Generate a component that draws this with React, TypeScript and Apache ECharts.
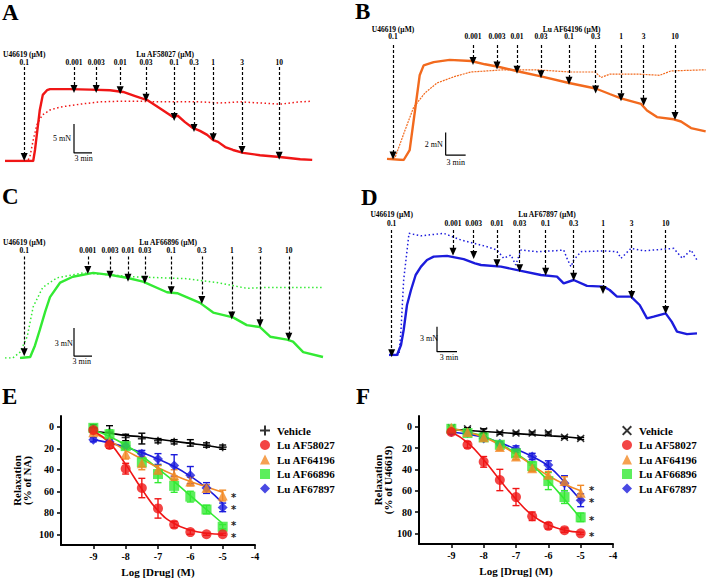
import React, { useEffect, useRef } from "react";
import * as echarts from "echarts";

// ---------------- Trace panels (time in min, force in mN) ----------------
const A_drug: number[][] = [[0,0],[4.7,0],[5,1.9],[5.3,4.5],[5.8,8.8],[6.3,11.4],[7,12.2],[7.5,12.4],[10.8,12.4],[14.2,12.3],[17.5,12.2],[19.7,11.9],[21.7,11.2],[23.7,10.5],[25.8,9.1],[28,7.6],[28.8,7.8],[30,6.7],[31.3,5.7],[32.5,5.2],[33.7,4.5],[34.7,3.6],[35.5,3.3],[36.7,2.4],[38,1.9],[39.7,1.4],[42.5,1.0],[45.8,0.7],[49.2,0.3],[51.2,0.2]];
const A_vehicle: number[][] = [[0,0],[3.8,0],[4.2,1.0],[4.7,3.6],[5.3,6.2],[6.2,7.9],[7.5,8.8],[9.2,9.3],[12.5,9.8],[15.8,10.2],[19.2,10.3],[22.5,10.3],[25.8,10.2],[29.2,10.2],[32.5,10.2],[35.8,10.0],[39.2,10.2],[42.5,10.0],[45.8,9.8],[47.5,10.0],[49.2,10.2],[51.2,10.3]];
const A_concLabels = ["0.001","0.003","0.01","0.03","0.1","0.3","1","3","10"];
const A_concTime = [11.5,15.2,19.2,23.5,28.2,31.5,34.7,39.5,45.7];
const A_concTip = [12.4,12.4,12.2,10.9,7.6,5.7,4.1,1.9,0.9];

const B_drug: number[][] = [[0,0.1],[2.5,0],[3.4,0.9],[4.2,4.5],[4.9,7.7],[5.5,8.6],[7.0,8.9],[9.4,9.1],[12.6,9.0],[14.7,8.7],[16.5,8.5],[20.1,8.0],[23.1,7.6],[27.3,7.0],[31.3,6.5],[33.4,6.0],[35.1,5.6],[38.1,5.1],[39.0,4.5],[40.5,3.9],[43.0,3.7],[44.1,3.5],[45.6,2.9],[47.8,2.6]];
const B_vehicle: number[][] = [[0,0.1],[1.2,0.2],[2.7,2.7],[4.0,4.8],[5.7,6.1],[7.5,7.0],[10.2,7.6],[12.6,8.0],[17.5,8.2],[22.5,8.2],[27.4,8.0],[31.2,8.0],[32.1,7.5],[33.4,7.8],[37.9,7.8],[40.9,7.7],[42.6,8.1],[47.8,8.2]];
const B_concLabels = ["0.001","0.003","0.01","0.03","0.1","0.3","1","3","10"];
const B_concTime = [12.9,16.5,19.5,23.1,27.3,31.3,35.1,38.5,43.2];
const B_concTip = [9.0,8.6,8.2,7.8,7.2,6.4,5.7,5.3,4.0];

const C_drug: number[][] = [[2.5,0],[4.2,0.1],[5,1.3],[5.8,2.9],[6.7,4.8],[7.5,6.3],[9.2,7.8],[11.3,8.4],[14.7,8.8],[17.5,8.6],[20.3,8.3],[23,7.9],[27,6.8],[28.7,6.7],[32.5,5.7],[34.7,4.7],[38,4.2],[40.3,3.4],[42.5,3.2],[44.2,2.2],[47,1.9],[48,1.7],[49.7,0.6],[53,0.1]];
const C_vehicle: number[][] = [[0,0],[1.3,0],[2.5,0.6],[3.7,2.2],[4.7,5.3],[6.3,7.3],[8.7,8.3],[13,8.8],[17.5,8.6],[21.3,8.4],[25.8,8.3],[30.3,8.2],[35.3,7.8],[40.3,7.2],[43.7,7.3],[48,7.3],[53,7.3]];
const C_concLabels = ["0.001","0.003","0.01","0.03","0.1","0.3","1","3","10"];
const C_concTime = [13.8,17.5,20.5,23.3,27.7,32.8,37.8,42.5,47.3];
const C_concTip = [9.1,8.6,8.3,8.1,7.0,6.0,4.4,3.6,2.2];

const D_drug: number[][] = [[0,0],[1.2,0],[1.8,1.2],[2.2,3.0],[2.7,6.0],[3.3,7.8],[4,9.6],[4.8,10.6],[5.7,11.4],[6.7,11.8],[8.7,11.9],[11.2,11.5],[12.9,11.0],[13.8,10.8],[16.8,10.6],[19.8,10.1],[22.8,9.6],[25.2,9.4],[26.2,8.6],[27.7,9.0],[29.7,8.3],[32.2,8.2],[33.1,7.8],[34.2,7.0],[36.3,7.0],[37.6,6.0],[38.7,4.4],[39.7,4.6],[41.5,5.0],[42.4,4.0],[43.2,2.8],[44.7,2.5],[46.2,2.6]];
const D_vehicle: number[][] = [[0,0],[1.5,0],[1.8,3],[2.2,9],[3,14.6],[4.8,14.3],[8.2,14.6],[10.8,13.8],[14.7,13],[16.2,12.6],[17.2,11.6],[18.3,12],[19,10.8],[19.8,12.6],[22.2,12.4],[24.7,12.5],[26.2,12.6],[26.8,11.4],[27.3,10.6],[27.7,11.4],[28.8,12.4],[32.2,12.5],[34.2,12.4],[34.8,11.6],[36.3,12.8],[38.2,12.5],[42.7,12.8],[44,11.6],[45.3,12.6],[46.2,11.4]];
const D_concLabels = ["0.001","0.003","0.01","0.03","0.1","0.3","1","3","10"];
const D_concTime = [9.6,12.7,16.2,19.6,23.5,27.7,32.1,36.4,41.5];
const D_concTip = [12.4,12.0,11.0,10.4,10.0,9.4,7.8,7.2,5.4];

// ---------------- Concentration-response panels ----------------
const logDrug = [-9, -8.5, -8, -7.5, -7, -6.5, -6, -5.5, -5];

const E_vehicle = [1, 5, 10, 11, 13, 14, 15, 17, 19];
const E_vehicleErr = [3, 6, 3, 5, 2, 2, 3, 2, 2];
const E_vehicleFit = [4, 6, 8, 9.5, 11.5, 13.5, 15.5, 17.5, 20];
const E_58027 = [3, 17, 39, 57, 76, 91, 98, 100, 100];
const E_58027Err = [2, 3, 5, 9, 9, 3, 2, 1, 1];
const E_58027Fit = [4, 15, 35, 58, 78, 90, 96, 99, 100];
const E_64196 = [5, 14, 25, 34, 40, 45, 51, 57, 64];
const E_64196Err = [2, 3, 5, 6, 4, 5, 4, 3, 5];
const E_64196Fit = [6, 13, 22, 30, 38, 45, 51, 56, 61];
const E_66896 = [1, 7, 18, 33, 44, 55, 65, 77, 93];
const E_66896Err = [2, 4, 3, 4, 8, 6, 5, 4, 2];
const E_66896Fit = [3, 9, 17, 27, 39, 51, 64, 77, 90];
const E_67897 = [12, 14, 18, 25, 30, 36, 45, 57, 75];
const E_67897Err = [2, 2, 2, 3, 5, 10, 8, 5, 4];
const E_67897Fit = [12, 15, 19, 24, 30, 37, 46, 57, 71];
const E_starLevels = [63.6, 74.8, 89.7, 100.9]; // where the significance asterisks sit

const F_vehicle = [1, 2, 4, 6, 6, 6, 6, 10, 11];
const F_vehicleErr = [1, 1, 2, 1, 1, 1, 1, 1, 1];
const F_vehicleFit = [2.5, 3.5, 4.5, 5.5, 6.5, 7.5, 8.5, 9.5, 11];
const F_58027 = [5, 17, 33, 50, 66, 84, 93, 97, 100];
const F_58027Err = [2, 3, 5, 10, 8, 4, 3, 2, 1];
const F_58027Fit = [5, 15, 31, 50, 68, 83, 92, 97, 99];
const F_64196 = [1, 5, 10, 19, 28, 39, 45, 51, 62];
const F_64196Err = [1, 1, 2, 3, 3, 3, 3, 4, 7];
const F_64196Fit = [2, 5, 10, 17, 26, 36, 46, 54, 60];
const F_66896 = [2, 6, 10, 17, 25, 37, 51, 66, 85];
const F_66896Err = [1, 1, 2, 2, 3, 4, 8, 6, 4];
const F_66896Fit = [2, 5, 9, 16, 25, 36, 51, 68, 86];
const F_67897 = [5, 6, 11, 16, 21, 28, 36, 53, 69];
const F_67897Err = [1, 1, 2, 2, 3, 3, 4, 7, 6];
const F_67897Fit = [5, 7, 10, 15, 21, 28, 37, 52, 69];
const F_starLevels = [58, 69.2, 86, 101];

const xTickLabels = [-9, -8, -7, -6, -5, -4];
const yTickLabels = [0, 20, 40, 60, 80, 100];

const SERIF = "'Liberation Serif', 'Times New Roman', serif";
const RED = "#f01616";
const ORANGE = "#f28a26";
const GREEN = "#33ea33";
const BLUE = "#1c1cdc";

const PLUS = "path://M3.2,0H4.8V3.2H8V4.8H4.8V8H3.2V4.8H0V3.2H3.2Z";
const CROSS = "path://M1.1,0L4,2.9L6.9,0L8,1.1L5.1,4L8,6.9L6.9,8L4,5.1L1.1,8L0,6.9L2.9,4L0,1.1Z";

type TraceCfg = {
  rect: { left: number; top: number; width: number; height: number };
  xMax: number; yMax: number;
  color: string;
  drug: number[][]; vehicle: number[][];
  vehicleStyle: "dotted" | "thin";
  concLabels: string[]; concTime: number[]; concTip: number[];
  uTime: number; uTip: number;
  headerF: number; concF: number; arrowTopF: number;
  drugName: string; drugCenterT: number;
  bar: { t: number; fTop: number; fBot: number; mN: string; mNT: number; mNF: number; minT: number; minF: number };
};

type TextItem = { t: number; f: number; text: string };

// Text placed through the axes (data coordinates) by a custom series
function textSeries(gi: number, name: string, items: TextItem[], font: string, dy = 0, fill = "#000") {
  return {
    type: "custom", name, xAxisIndex: gi, yAxisIndex: gi, silent: true, clip: false, z: 20,
    data: items.map((it) => [it.t, it.f]),
    renderItem: (params: any, api: any) => {
      const p = api.coord([api.value(0), api.value(1)]);
      return {
        type: "text", x: p[0], y: p[1] + dy,
        style: { text: items[params.dataIndex].text, fill, font, align: "center", verticalAlign: "middle" },
      };
    },
  };
}

function traceSeries(gi: number, c: TraceCfg) {
  const arrows = [
    [{ coord: [c.uTime, c.arrowTopF] }, { coord: [c.uTime, c.uTip] }],
    ...c.concTime.map((t, i) => [{ coord: [t, c.arrowTopF] }, { coord: [t, c.concTip[i]] }]),
  ];
  const texts: TextItem[] = [
    { t: c.uTime, f: c.headerF, text: "U46619 (\u00b5M)" },
    { t: c.uTime, f: c.concF, text: "0.1" },
    { t: c.drugCenterT, f: c.headerF, text: c.drugName + " (\u00b5M)" },
    ...c.concTime.map((t, i) => ({ t, f: c.concF, text: c.concLabels[i] })),
  ];
  const base = { xAxisIndex: gi, yAxisIndex: gi, silent: true };
  return [
    {
      ...base, type: "line", name: "veh" + gi, data: c.vehicle, showSymbol: false, symbol: "none",
      lineStyle: c.vehicleStyle === "dotted"
        ? { color: c.color, width: 1.5, type: [1.5, 2.5] }
        : { color: c.color, width: 1.2, type: [2, 1] },
      z: 2,
    },
    {
      ...base, type: "line", name: "drug" + gi, data: c.drug, showSymbol: false, symbol: "none",
      lineStyle: { color: c.color, width: 2.4 }, z: 3,
      markLine: {
        silent: true, symbol: ["none", "triangle"], symbolSize: [7, 8], animation: false,
        label: { show: false }, emphasis: { disabled: true },
        lineStyle: { color: "#000", width: 1.2, type: [3, 2] },
        data: arrows,
      },
    },
    {
      ...base, type: "line", name: "bar" + gi, showSymbol: false, symbol: "none",
      data: [[c.bar.t, c.bar.fTop], [c.bar.t, c.bar.fBot], [c.bar.t + 3, c.bar.fBot]],
      lineStyle: { color: "#000", width: 1.2 }, z: 4,
    },
    textSeries(gi, "txt" + gi, texts, `bold 7.5px ${SERIF}`),
    textSeries(gi, "sc" + gi, [
      { t: c.bar.mNT, f: c.bar.mNF, text: c.bar.mN },
      { t: c.bar.minT, f: c.bar.minF, text: "3 min" },
    ], `8px ${SERIF}`),
  ];
}

const traceCfgs: TraceCfg[] = [
  {
    rect: { left: 5, top: 45, width: 312, height: 116 }, xMax: 52, yMax: 20, color: RED,
    drug: A_drug, vehicle: A_vehicle, vehicleStyle: "dotted",
    concLabels: A_concLabels, concTime: A_concTime, concTip: A_concTip,
    uTime: 3.2, uTip: 0.7, headerF: 18.4, concF: 17.0, arrowTopF: 16.2,
    drugName: "Lu AF58027", drugCenterT: 26.7,
    bar: { t: 11.5, fTop: 6.4, fBot: 1.4, mN: "5 mN", mNT: 9.5, mNF: 3.9, minT: 13.1, minF: 0.45 },
  },
  {
    rect: { left: 387, top: 17, width: 320, height: 143 }, xMax: 48, yMax: 13, color: "#f26a1e",
    drug: B_drug, vehicle: B_vehicle, vehicleStyle: "thin",
    concLabels: B_concLabels, concTime: B_concTime, concTip: B_concTip,
    uTime: 0.9, uTip: 0.4, headerF: 11.9, concF: 11.2, arrowTopF: 10.45,
    drugName: "Lu AF64196", drugCenterT: 27.7,
    bar: { t: 8.8, fTop: 2.5, fBot: 0.45, mN: "2 mN", mNT: 7.0, mNF: 1.4, minT: 10.3, minF: -0.2 },
  },
  {
    rect: { left: 5, top: 240, width: 318, height: 118 }, xMax: 53, yMax: 12.2, color: GREEN,
    drug: C_drug, vehicle: C_vehicle, vehicleStyle: "dotted",
    concLabels: C_concLabels, concTime: C_concTime, concTip: C_concTip,
    uTime: 3.2, uTip: 0.6, headerF: 11.9, concF: 11.1, arrowTopF: 10.5,
    drugName: "Lu AF66896", drugCenterT: 27.2,
    bar: { t: 11.5, fTop: 3.1, fBot: 0.2, mN: "3 mN", mNT: 9.8, mNF: 1.55, minT: 12.8, minF: -0.4 },
  },
  {
    rect: { left: 389, top: 205, width: 312, height: 150 }, xMax: 46.8, yMax: 18, color: BLUE,
    drug: D_drug, vehicle: D_vehicle, vehicleStyle: "dotted",
    concLabels: D_concLabels, concTime: D_concTime, concTip: D_concTip,
    uTime: 0.4, uTip: 0.2, headerF: 16.9, concF: 15.8, arrowTopF: 15.0,
    drugName: "Lu AF67897", drugCenterT: 23.7,
    bar: { t: 7.2, fTop: 3.4, fBot: 0.4, mN: "3 mN", mNT: 6.0, mNF: 2.0, minT: 9.0, minF: -0.3 },
  },
];

type CRSet = { name: string; color: string; symbol: string; size: number; mean: number[]; err: number[]; fit: number[] };

function crSeries(gi: number, sets: CRSet[], starTx: number, starLevels: number[]) {
  const base = { xAxisIndex: gi, yAxisIndex: gi };
  const out: any[] = [];
  sets.forEach((s, k) => {
    out.push({
      ...base, type: "line", name: `fit${gi}-${k}`, data: logDrug.map((x, i) => [x, s.fit[i]]),
      smooth: true, showSymbol: false, symbol: "none", silent: true,
      lineStyle: { color: s.color, width: 1.6 }, z: 2 + k,
    });
    out.push({
      ...base, type: "custom", name: `err${gi}-${k}`, silent: true, z: 2 + k,
      data: logDrug.map((x, i) => [x, s.mean[i] - s.err[i], s.mean[i] + s.err[i]]),
      encode: { x: 0, y: [1, 2] },
      renderItem: (_p: any, api: any) => {
        const x = api.value(0);
        const a = api.coord([x, api.value(1)]);
        const b = api.coord([x, api.value(2)]);
        const w = 3.5;
        const st = { stroke: s.color, lineWidth: 1.4 };
        return {
          type: "group",
          children: [
            { type: "line", shape: { x1: a[0], y1: a[1], x2: b[0], y2: b[1] }, style: st },
            { type: "line", shape: { x1: a[0] - w, y1: a[1], x2: a[0] + w, y2: a[1] }, style: st },
            { type: "line", shape: { x1: b[0] - w, y1: b[1], x2: b[0] + w, y2: b[1] }, style: st },
          ],
        };
      },
    });
    out.push({
      ...base, type: "scatter", name: s.name, data: logDrug.map((x, i) => [x, s.mean[i]]),
      symbol: s.symbol, symbolSize: s.size, itemStyle: { color: s.color }, silent: true, z: 10 + k,
    });
  });
  const stars: TextItem[] = starLevels.map((v) => ({ t: starTx, f: v, text: "*" }));
  out.push(textSeries(gi, "stars" + gi, stars, `bold 10px 'DejaVu Sans', sans-serif`, 2, "#222"));
  return out;
}

const E_sets: CRSet[] = [
  { name: "Vehicle", color: "#000", symbol: PLUS, size: 8, mean: E_vehicle, err: E_vehicleErr, fit: E_vehicleFit },
  { name: "Lu AF67897", color: BLUE, symbol: "diamond", size: 10, mean: E_67897, err: E_67897Err, fit: E_67897Fit },
  { name: "Lu AF66896", color: GREEN, symbol: "rect", size: 10, mean: E_66896, err: E_66896Err, fit: E_66896Fit },
  { name: "Lu AF64196", color: ORANGE, symbol: "triangle", size: 10, mean: E_64196, err: E_64196Err, fit: E_64196Fit },
  { name: "Lu AF58027", color: RED, symbol: "circle", size: 10, mean: E_58027, err: E_58027Err, fit: E_58027Fit },
];
const F_sets: CRSet[] = [
  { name: "Vehicle", color: "#000", symbol: CROSS, size: 8, mean: F_vehicle, err: F_vehicleErr, fit: F_vehicleFit },
  { name: "Lu AF67897", color: BLUE, symbol: "diamond", size: 10, mean: F_67897, err: F_67897Err, fit: F_67897Fit },
  { name: "Lu AF66896", color: GREEN, symbol: "rect", size: 10, mean: F_66896, err: F_66896Err, fit: F_66896Fit },
  { name: "Lu AF64196", color: ORANGE, symbol: "triangle", size: 10, mean: F_64196, err: F_64196Err, fit: F_64196Fit },
  { name: "Lu AF58027", color: RED, symbol: "circle", size: 10, mean: F_58027, err: F_58027Err, fit: F_58027Fit },
];

function crAxes(gi: number, yName: string, yGap: number) {
  const axisLine = { lineStyle: { color: "#000", width: 2 } };
  const axisTick = { lineStyle: { color: "#000", width: 1.5 }, length: 4 };
  const lbl = { color: "#000", fontFamily: SERIF, fontWeight: "bold", fontSize: 10 };
  return {
    x: {
      gridIndex: gi, type: "value", min: -10, max: -4, interval: 1,
      axisLine: { show: true, onZero: false, ...axisLine },
      axisTick: { show: true, ...axisTick, customValues: xTickLabels },
      axisLabel: { ...lbl, margin: 6, customValues: xTickLabels, formatter: (v: number) => String(v) },
      splitLine: { show: false },
      name: "Log [Drug] (M)", nameLocation: "middle", nameGap: 21,
      nameTextStyle: { color: "#000", fontFamily: SERIF, fontWeight: "bold", fontSize: 11 },
    },
    y: {
      gridIndex: gi, type: "value", min: -10, max: 110, inverse: true,
      axisLine: { show: true, onZero: false, ...axisLine },
      axisTick: { show: true, ...axisTick, customValues: yTickLabels },
      axisLabel: { ...lbl, margin: 7, customValues: yTickLabels },
      splitLine: { show: false },
      name: yName, nameLocation: "middle", nameGap: yGap, nameRotate: 90,
      nameTextStyle: { color: "#000", fontFamily: SERIF, fontWeight: "bold", fontSize: 11, lineHeight: 10, align: "center" },
    },
  };
}

function legendFor(left: number, vehicleIcon: string) {
  const order = ["Vehicle", "Lu AF58027", "Lu AF64196", "Lu AF66896", "Lu AF67897"];
  const icons: Record<string, string> = {
    "Vehicle": vehicleIcon, "Lu AF58027": "circle", "Lu AF64196": "triangle", "Lu AF66896": "rect", "Lu AF67897": "diamond",
  };
  return {
    orient: "vertical", left, top: 420, itemWidth: 10, itemHeight: 10, itemGap: 3.5,
    selectedMode: false,
    textStyle: { color: "#000", fontFamily: SERIF, fontWeight: "bold", fontSize: 11, padding: [0, 0, 0, 2] },
    data: order.map((n) => ({ name: n, icon: icons[n] })),
  };
}

export default function App() {
  const ref = useRef<HTMLDivElement>(null);
  useEffect(() => {
    if (!ref.current) return;
    const chart = echarts.init(ref.current, null, { renderer: "svg" });
    const grids: any[] = [];
    const xAxes: any[] = [];
    const yAxes: any[] = [];
    let series: any[] = [];
    traceCfgs.forEach((c, gi) => {
      grids.push({ ...c.rect, containLabel: false });
      xAxes.push({ gridIndex: gi, type: "value", min: 0, max: c.xMax, show: false });
      yAxes.push({ gridIndex: gi, type: "value", min: 0, max: c.yMax, show: false });
      series = series.concat(traceSeries(gi, c));
    });
    grids.push({ left: 61, top: 416, width: 194, height: 129 });
    grids.push({ left: 419, top: 416, width: 194, height: 128 });
    const eAx = crAxes(4, "Relaxation\n(% of NA)", 29);
    const fAx = crAxes(5, "Relaxation\n(% of U46619)", 25);
    xAxes.push(eAx.x, fAx.x);
    yAxes.push(eAx.y, fAx.y);
    series = series.concat(crSeries(4, E_sets, -4.66, E_starLevels), crSeries(5, F_sets, -4.66, F_starLevels));

    const letterStyle = { color: "#000", fontFamily: SERIF, fontWeight: "bold", fontSize: 23 };
    const letters = [
      { t: "A", l: 2, tp: 1 }, { t: "B", l: 355, tp: 0 }, { t: "C", l: 2, tp: 185 },
      { t: "D", l: 361, tp: 186 }, { t: "E", l: 2, tp: 385 }, { t: "F", l: 356, tp: 385 },
    ];
    chart.setOption({
      animation: false,
      backgroundColor: "#fff",
      title: letters.map((x) => ({ text: x.t, left: x.l, top: x.tp, padding: 0, textStyle: letterStyle })),
      legend: [legendFor(255, PLUS), legendFor(617, CROSS)],
      grid: grids,
      xAxis: xAxes,
      yAxis: yAxes,
      series,
    });
    return () => chart.dispose();
  }, []);
  return <div ref={ref} style={{ position: "fixed", left: 0, top: 0, width: 709, height: 578, background: "#fff" }} />;
}
